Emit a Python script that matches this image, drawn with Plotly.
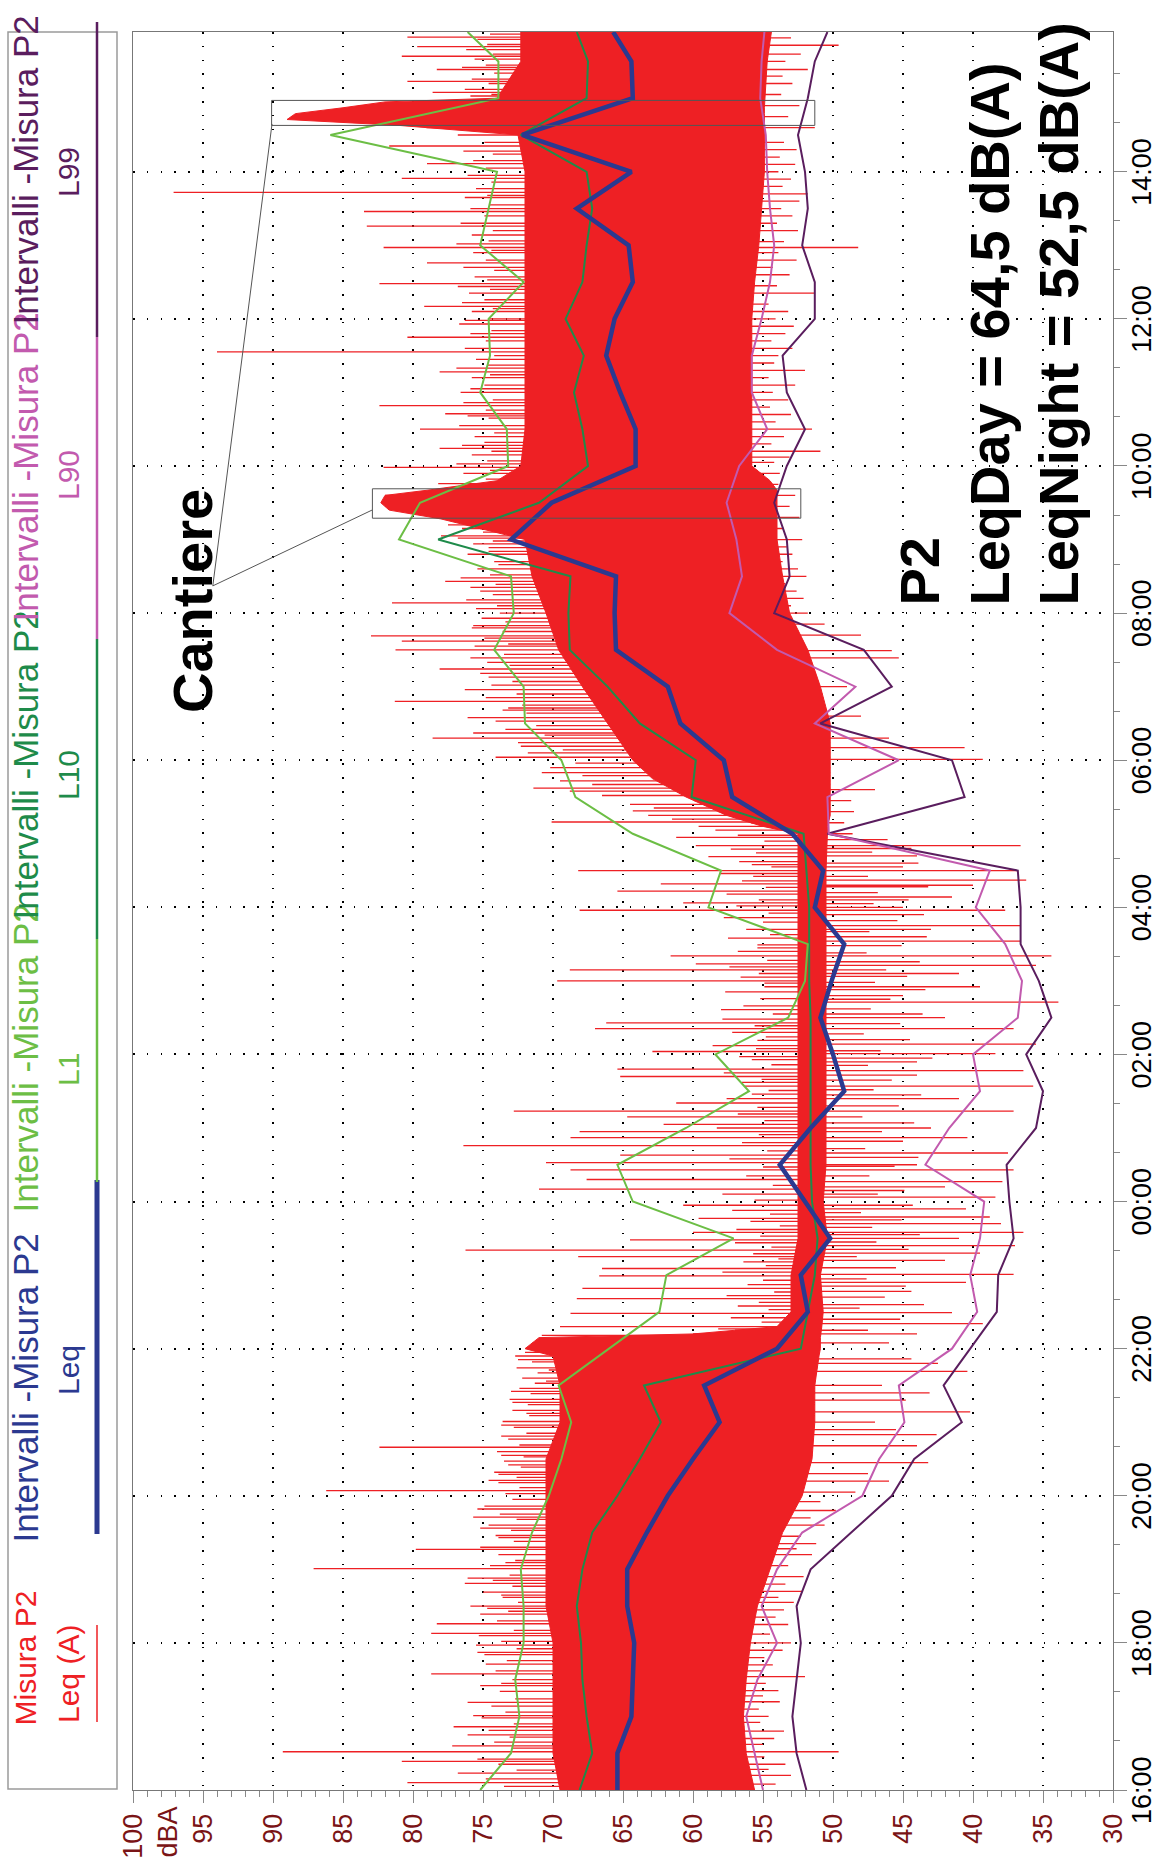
import numpy as np
import plotly.graph_objects as go

# ---------------- DATA ----------------
# time in hours after 16:00 (start of the measurement)
interval_t = [0, 0.5, 1, 1.5, 2, 2.5, 3, 3.5, 4, 4.5, 5, 5.5, 6, 6.5, 7, 7.5, 8, 8.5, 9, 9.5,
              10, 10.5, 11, 11.5, 12, 12.5, 13, 13.5, 14, 14.5, 15, 15.5, 16, 16.5, 17, 17.5,
              18, 18.5, 19, 19.5, 20, 20.5, 21, 21.5, 22, 22.5, 23, 23.5, 23.9]
leq = [65.4, 65.4, 64.4, 64.3, 64.2, 64.7, 64.7, 63.3, 61.8, 60.0, 58.1, 59.2, 54.0, 51.8, 52.3, 50.2,
       52.0, 53.8, 51.6, 49.2, 50.0, 50.9, 50.1, 49.2, 51.3, 50.7, 52.9, 57.2, 57.8, 60.9, 61.8, 65.5,
       65.6, 65.5, 73.0, 70.1, 64.1, 64.1, 65.2, 66.2, 65.6, 64.3, 64.6, 68.3, 64.4, 72.2, 64.3, 64.4, 65.7]
l1 = [75.2, 73.0, 72.4, 72.7, 72.1, 72.1, 72.3, 71.5, 70.3, 69.4, 68.7, 69.6, 66.0, 62.4, 61.9, 57.1,
      64.3, 65.4, 60.5, 56.0, 58.4, 53.2, 52.0, 51.8, 58.9, 58.0, 64.3, 68.4, 69.4, 72.0, 72.1, 74.2,
      72.8, 73.0, 81.0, 79.5, 73.2, 73.3, 75.2, 74.5, 74.6, 72.1, 75.2, 74.6, 74.0, 85.9, 73.9, 73.9, 76.1]
l10 = [68.1, 67.2, 67.6, 67.9, 68.0, 68.3, 67.9, 67.2, 65.4, 63.8, 62.3, 63.5, 52.3, 51.8, 51.3, 51.1,
       51.5, 51.6, 51.6, 51.6, 51.6, 51.6, 51.7, 51.7, 51.7, 51.9, 52.1, 60.1, 59.8, 63.8, 66.1, 68.8,
       68.9, 68.75, 78.2, 71.0, 67.5, 67.9, 68.5, 67.8, 69.1, 67.9, 67.6, 67.2, 67.6, 72.3, 67.6, 67.5, 68.3]
l90 = [55.0, 55.6, 56.2, 55.4, 54.0, 55.1, 54.0, 52.2, 47.9, 46.7, 44.9, 45.3, 41.5, 39.7, 40.2, 39.5,
       39.2, 43.4, 41.7, 39.5, 40.0, 36.8, 36.5, 37.7, 39.8, 38.8, 50.3, 50.4, 45.3, 51.3, 48.4, 54.0,
       57.4, 56.5, 56.9, 57.6, 56.7, 54.7, 55.8, 55.8, 55.1, 54.5, 54.2, 54.5, 54.7, 54.8, 55.2, 55.1, 54.9]
l99 = [51.9, 52.6, 52.9, 52.6, 52.3, 52.6, 51.6, 48.7, 45.8, 44.2, 40.8, 42.1, 40.2, 38.3, 38.2, 37.1,
       37.4, 37.6, 35.5, 35.0, 36.2, 34.4, 35.3, 36.6, 36.6, 36.8, 50.4, 40.6, 41.5, 50.9, 45.8, 47.8,
       54.2, 53.1, 53.3, 54.2, 53.3, 52.0, 53.3, 53.6, 51.3, 51.3, 52.2, 51.8, 52.0, 52.5, 51.8, 51.3, 50.4]

# short-time Leq(A) history: dense core band (upper / lower edge) ...
band_t = [0, 0.5, 1, 1.5, 2, 2.5, 3, 3.5, 4, 4.5, 5, 5.5, 5.9, 6.0, 6.15, 6.2, 6.3, 6.5, 7, 7.5,
          8, 8.5, 9, 9.5, 10, 10.5, 11, 11.5, 12, 12.5, 13, 13.1, 13.25, 13.5, 13.75, 14, 14.5, 15,
          15.5, 16, 16.5, 17, 17.28, 17.4, 17.5, 17.6, 17.67, 17.8, 18, 18.5, 19, 19.5, 20, 20.5,
          21, 21.5, 22, 22.5, 22.63, 22.71, 22.79, 22.87, 22.95, 23.0, 23.5, 23.9]
band_hi = [69.5, 70, 70, 70, 70, 70.5, 70.5, 70.5, 70.5, 70.5, 69.5, 69.5, 70, 72, 71, 60, 54, 53, 53, 52.5,
           52.5, 52.5, 52.5, 52.5, 52.5, 52.5, 52.5, 52.5, 52.5, 52.5, 52.5, 55, 57.6, 60.5, 62.9, 64.3, 66.1, 67.9,
           69.6, 70.5, 71.5, 72, 78, 81.7, 82.3, 82, 79, 74, 72.3, 72, 72, 72, 72, 72,
           72, 72, 72, 72.5, 81, 89, 88.4, 85, 82, 74, 72.3, 72.3]
band_lo = [55.6, 56.2, 56.4, 56.2, 55.9, 55.4, 54.5, 53.6, 52.2, 51.5, 51.3, 51.3, 51, 50.9, 50.9, 50.9, 50.8, 50.7, 50.9, 50.4,
           50.7, 50.5, 50.5, 50.5, 50.5, 50.5, 50.5, 50.5, 50.5, 50.5, 50.4, 50.4, 50.2, 50.2, 50.2, 50.2, 50.2, 50.9,
           51.8, 53.1, 53.6, 54, 54, 54, 54, 54, 54, 54.5, 55.8, 55.8, 55.8, 55.8, 55.8, 55.6,
           55.3, 55.1, 54.9, 54.9, 54.9, 54.9, 54.9, 54.9, 54.9, 54.9, 54.7, 54.4]

# ... its long peaks (towards high levels)
peak_t = [0.10, 0.23, 0.39, 0.52, 0.60, 0.75, 0.86, 1.01, 1.19, 1.45, 1.58, 1.71, 1.87, 1.97, 2.13, 2.26,
          2.39, 2.50, 2.65, 2.81, 2.88, 3.01, 3.09, 3.27, 3.43, 3.56, 3.71, 3.82, 4.07, 4.21, 4.29, 4.42,
          4.55, 4.66, 4.81, 4.96, 5.12, 5.27, 5.42, 5.56, 5.71, 5.85, 5.90, 6.18, 6.30, 6.48, 6.68, 6.82,
          6.99, 7.09, 7.25, 7.34, 7.48, 7.58, 7.77, 7.95,
          8.17, 8.30, 8.43, 8.53, 8.63, 8.76, 8.87, 8.95, 9.05, 9.15, 9.23, 9.34, 9.46, 9.62, 9.70, 9.80,
          9.93, 10.04, 10.19, 10.35, 10.43, 10.61, 10.92, 11.0, 11.15, 11.23, 11.34, 11.49, 11.96, 12.06,
          12.22, 12.32, 12.50, 12.58, 12.69, 12.84, 12.95, 13.16, 13.31, 13.62, 13.83, 14.04, 14.19, 14.30,
          14.37, 14.58, 14.71, 14.80, 14.96, 15.13, 15.24, 15.39, 15.50, 15.62, 15.69, 15.83,
          16.14, 16.30, 16.43, 16.66, 16.89, 17.05, 17.15, 17.98, 18.24, 18.5, 18.71, 18.82, 19.05,
          19.28, 19.55, 19.75, 19.98, 20.17, 20.48, 20.76, 20.97, 21.26, 21.46, 21.72, 21.91, 22.11,
          22.35, 23.08, 23.23, 23.39, 23.57, 23.70, 23.83]
peak_v = [80.4, 76.8, 80.8, 89.3, 77.2, 76.1, 77.1, 75.7, 76.1, 73.7, 78.7, 74.8, 75.4, 75.5, 78.7, 78.3,
          75.2, 75.9, 73.7, 76.3, 76.1, 87.1, 73.4, 79.8, 73.9, 75.2, 75.7, 75.4, 86.2, 74.6, 73.9, 73.2,
          73.7, 82.4, 73.7, 73.7, 71.9, 72.9, 73.0, 70.5, 70.3, 72.5, 72.7, 70.8, 69.5, 68.75, 68.3, 67.9,
          66.7, 66.5, 68.2, 76.25, 64.5, 60.0, 59.6, 60.7,
          71.0, 67.6, 68.75, 70.5, 65.2, 76.4, 68.75, 68.1, 62.1, 64.7, 72.8, 61.2, 55.8, 56.5, 65.2, 65.4,
          55.8, 62.9, 55.4, 67.0, 66.2, 58.0, 54.9, 69.7, 68.8, 59.8, 61.6, 55.4, 68.1, 60.7,
          65.4, 62.3, 68.2, 55.8, 58.9, 59.8, 61.2, 70.1, 64.3, 71.4, 70.8, 74.1, 72.3, 78.6,
          75.7, 76.1, 73.2, 81.3, 76.3, 74.6, 78.1, 75.9, 81.25, 80.8, 83.0, 75.7,
          81.5, 75.2, 77.7, 73.9, 74.6, 78.0, 76.5, 82.1, 78.1, 79.5, 77.7, 82.4, 75.9,
          78.1, 94.0, 80.4, 76.3, 79.2, 82.4, 79.0, 82.1, 83.3, 83.5, 97.1, 80.8, 79.0,
          81.7, 78.6, 80.4, 78.3, 80.8, 79.7, 80.4]

# ... its short peaks (dense fringe), as (time, level) pairs
fringe_peaks = [
    (0.05, 73.5), (0.15, 74.8), (0.27, 72.6), (0.35, 73.9), (0.42, 75.4), (0.57, 72.9), (0.65, 74.2),
    (0.72, 73.1), (0.81, 74.6), (0.90, 72.8), (0.98, 75.1), (1.06, 73.4), (1.14, 74.4), (1.24, 72.7),
    (1.34, 73.8), (1.42, 75.2), (1.50, 72.9), (1.62, 74.1), (1.76, 73.3), (1.84, 74.9), (1.92, 72.6),
    (2.02, 73.7), (2.10, 75.3), (2.17, 72.8), (2.30, 74.0), (2.43, 73.2), (2.47, 74.7), (2.55, 72.5),
    (2.62, 73.6), (2.69, 75.0), (2.77, 72.9), (2.85, 74.3), (2.92, 73.1), (3.05, 74.5), (3.12, 72.7),
    (3.20, 73.9), (3.30, 75.2), (3.38, 72.8), (3.46, 74.1), (3.53, 73.0), (3.60, 74.6), (3.68, 72.6),
    (3.75, 73.8), (3.86, 74.9), (3.95, 72.9), (4.03, 73.4), (4.11, 72.4), (4.18, 73.9), (4.25, 72.6),
    (4.32, 74.2), (4.39, 72.3), (4.47, 73.5), (4.53, 72.1), (4.60, 74.0), (4.69, 72.4), (4.77, 73.2),
    (4.85, 71.9), (4.93, 72.8), (5.01, 73.6), (5.09, 71.7), (5.16, 72.9), (5.24, 71.8), (5.31, 73.1),
    (5.39, 71.6), (5.46, 72.4), (5.53, 71.3), (5.60, 72.2), (5.67, 71.1), (5.74, 72.6), (5.82, 71.5),
    (5.95, 72.0),
    (6.22, 56.5), (6.27, 58.2), (6.36, 55.1), (6.42, 57.3), (6.53, 54.6), (6.58, 56.8), (6.63, 55.3),
    (6.72, 57.6), (6.77, 54.2), (6.87, 56.1), (6.93, 55.0), (7.04, 57.9), (7.13, 54.8), (7.18, 56.4),
    (7.22, 53.9), (7.29, 55.7), (7.38, 54.4), (7.44, 57.0), (7.53, 55.2), (7.62, 56.9), (7.67, 53.8),
    (7.73, 55.9), (7.83, 54.5), (7.88, 57.2), (8.02, 55.6), (8.10, 57.9), (8.22, 54.3), (8.35, 56.2),
    (8.47, 55.0), (8.58, 57.4), (8.69, 54.7), (8.80, 56.5), (8.91, 55.3), (9.00, 58.3), (9.10, 54.9),
    (9.19, 56.8), (9.28, 55.4), (9.40, 57.6), (9.51, 54.6), (9.57, 56.3), (9.66, 55.1), (9.75, 57.8),
    (9.86, 54.4), (9.97, 56.7), (10.08, 55.5), (10.12, 58.6), (10.24, 54.8), (10.30, 57.2), (10.39, 55.6),
    (10.48, 57.9), (10.55, 54.3), (10.66, 56.4), (10.76, 55.2), (10.85, 57.7), (10.97, 54.9), (11.05, 56.6),
    (11.10, 55.3), (11.19, 57.4), (11.28, 54.7), (11.40, 56.8), (11.45, 55.4), (11.58, 57.5), (11.63, 54.5),
    (11.70, 56.2), (11.80, 55.0), (11.86, 57.8), (11.92, 54.6), (12.02, 56.9), (12.10, 55.3), (12.18, 57.6),
    (12.27, 54.8), (12.36, 56.5), (12.42, 55.7), (12.46, 58.1), (12.55, 54.4), (12.62, 56.7), (12.74, 55.5),
    (12.79, 57.3), (12.90, 54.9), (12.98, 56.8), (13.05, 58.4), (13.10, 59.6), (13.20, 61.5), (13.25, 63.2),
    (13.35, 62.8), (13.40, 64.5),
    (13.52, 66.5), (13.58, 68.8), (13.67, 67.2), (13.72, 69.5), (13.79, 67.9), (13.90, 70.2), (13.96, 68.4),
    (14.10, 71.8), (14.14, 69.3), (14.24, 72.5), (14.34, 70.6), (14.42, 73.4), (14.47, 71.2), (14.53, 74.1),
    (14.64, 71.9), (14.68, 73.6), (14.75, 72.2), (14.85, 74.8), (14.90, 72.6), (15.02, 74.4), (15.07, 72.9),
    (15.18, 75.2), (15.29, 73.1), (15.33, 74.7), (15.44, 73.5), (15.55, 75.6), (15.58, 73.2), (15.66, 74.9),
    (15.75, 73.6), (15.80, 75.8), (15.88, 73.4), (15.93, 75.1), (16.00, 73.8), (16.06, 75.5), (16.10, 74.0),
    (16.18, 76.2), (16.25, 74.3), (16.35, 75.9), (16.39, 74.1), (16.48, 76.6), (16.52, 74.5), (16.60, 75.4),
    (16.70, 74.2), (16.80, 76.1), (16.84, 74.6), (16.94, 75.7), (16.98, 74.3), (17.02, 76.8), (17.10, 75.0),
    (17.20, 77.5), (17.72, 76.0), (17.76, 78.2), (17.82, 74.8), (17.90, 76.4), (17.94, 74.5), (18.03, 76.9),
    (18.07, 74.7), (18.15, 75.8), (18.20, 74.4), (18.28, 76.5), (18.32, 74.9), (18.40, 75.6), (18.45, 74.2),
    (18.55, 76.7), (18.65, 74.6), (18.68, 76.1), (18.76, 74.8), (18.86, 76.4), (18.90, 74.3), (19.00, 76.6),
    (19.10, 74.9), (19.20, 75.8), (19.24, 74.5), (19.33, 76.9), (19.37, 74.7), (19.45, 75.5), (19.50, 74.2),
    (19.60, 76.3), (19.70, 74.8), (19.80, 75.9), (19.84, 74.4), (19.93, 76.7), (20.00, 74.6), (20.10, 75.8),
    (20.14, 74.3), (20.22, 76.5), (20.26, 74.9), (20.35, 76.0), (20.40, 74.5), (20.44, 76.8), (20.53, 74.7),
    (20.57, 75.6), (20.66, 74.2), (20.70, 76.4), (20.80, 74.8), (20.90, 75.7), (20.93, 74.4), (21.02, 76.9),
    (21.06, 74.6), (21.14, 75.8), (21.20, 74.3), (21.30, 76.6), (21.40, 74.9), (21.50, 75.9), (21.55, 74.5),
    (21.65, 76.3), (21.68, 74.7), (21.77, 75.5), (21.86, 74.4), (21.95, 76.1), (22.05, 74.8), (22.15, 75.7),
    (22.24, 74.3), (22.28, 76.4), (22.40, 74.9), (22.50, 76.8), (22.55, 75.2), (23.03, 75.9), (23.05, 74.4),
    (23.12, 76.3), (23.20, 74.6), (23.26, 75.8), (23.34, 74.2), (23.42, 76.5), (23.45, 74.8), (23.53, 75.6),
    (23.60, 74.3), (23.66, 76.2), (23.73, 74.7), (23.80, 75.4), (23.87, 74.5)]

# ... and its dips (towards low levels), as (time, level) pairs
dips = [
    (0.08, 54.1), (0.20, 53.0), (0.28, 54.6), (0.35, 53.4), (0.45, 54.9), (0.52, 49.6), (0.62, 55.0),
    (0.70, 54.2), (0.80, 53.5), (0.92, 55.2), (1.00, 54.6), (1.10, 55.3), (1.20, 53.8), (1.28, 55.0),
    (1.35, 53.9), (1.45, 54.8), (1.54, 52.0), (1.62, 55.1), (1.70, 54.3), (1.80, 54.9), (1.90, 53.6),
    (2.00, 53.0), (2.12, 54.5), (2.25, 53.2), (2.35, 54.1), (2.45, 53.5), (2.55, 52.8), (2.62, 53.9),
    (2.70, 52.2), (2.80, 53.4), (2.90, 52.1), (3.05, 53.2), (3.20, 51.5), (3.28, 52.6), (3.35, 51.2),
    (3.45, 52.3), (3.60, 50.6), (3.70, 51.6), (3.80, 49.8), (3.92, 50.9), (4.05, 48.4), (4.20, 46.0),
    (4.30, 47.5), (4.45, 43.2), (4.68, 44.0), (4.83, 42.6), (4.90, 45.5), (5.00, 47.0), (5.14, 40.2),
    (5.30, 44.8), (5.40, 43.1), (5.50, 46.5), (5.69, 40.4), (5.80, 42.5), (5.86, 44.4), (6.08, 46.0),
    (6.20, 44.0), (6.25, 47.5), (6.34, 39.3), (6.40, 45.2), (6.49, 41.5), (6.55, 48.1), (6.60, 43.5),
    (6.70, 46.3), (6.78, 44.4), (6.85, 44.8), (6.90, 40.5), (6.95, 47.6), (7.01, 37.1), (7.10, 45.5),
    (7.20, 42.0), (7.25, 48.3), (7.30, 39.5), (7.35, 44.6), (7.40, 37.0), (7.45, 46.9), (7.50, 41.0),
    (7.55, 43.8), (7.58, 36.4), (7.65, 47.2), (7.70, 38.0), (7.75, 45.1), (7.79, 38.8), (7.85, 48.0),
    (7.90, 40.5), (7.95, 44.3), (8.06, 38.4), (8.10, 46.8), (8.15, 44.9), (8.20, 42.0), (8.27, 37.9),
    (8.35, 47.4), (8.43, 37.1), (8.48, 45.6), (8.50, 44.0), (8.60, 43.9), (8.66, 37.5), (8.72, 47.7),
    (8.82, 45.0), (8.87, 40.4), (8.95, 46.5), (9.00, 43.0), (9.07, 44.2), (9.15, 47.9), (9.23, 37.1),
    (9.30, 45.3), (9.40, 41.0), (9.45, 43.7), (9.52, 47.1), (9.57, 35.7), (9.65, 45.8), (9.72, 44.0),
    (9.78, 36.4), (9.85, 47.5), (9.90, 44.0), (9.95, 42.9), (10.01, 38.4), (10.05, 46.6), (10.14, 35.5),
    (10.20, 44.5), (10.28, 47.8), (10.35, 37.1), (10.42, 45.2), (10.50, 42.0), (10.55, 43.6), (10.62, 47.3),
    (10.71, 33.9), (10.75, 45.9), (10.80, 45.0), (10.88, 43.4), (10.92, 39.5), (10.98, 47.0), (11.06, 44.7),
    (11.10, 41.0), (11.15, 46.2), (11.21, 35.5), (11.26, 43.8), (11.34, 34.4), (11.38, 47.6), (11.48, 45.1),
    (11.54, 36.6), (11.60, 43.3), (11.67, 47.4), (11.70, 43.0), (11.75, 36.6), (11.82, 45.4), (11.90, 43.5),
    (11.96, 37.7), (12.00, 45.0), (12.05, 47.1), (12.10, 44.6), (12.14, 41.5), (12.20, 46.8), (12.28, 43.2),
    (12.30, 40.0), (12.37, 36.2), (12.42, 47.5), (12.50, 36.8), (12.55, 45.0), (12.60, 43.9), (12.70, 44.0),
    (12.75, 47.2), (12.80, 44.4), (12.84, 36.6), (12.92, 46.1), (13.00, 48.6), (13.15, 49.2), (13.30, 48.5),
    (13.45, 48.7), (13.60, 47.0), (14.01, 39.3), (14.17, 40.6), (14.30, 46.0), (14.60, 48.0), (15.00, 49.0),
    (15.39, 45.3), (15.49, 45.8), (15.70, 48.0), (15.85, 50.6), (16.00, 51.8), (16.10, 53.0), (16.20, 52.1),
    (16.30, 52.6), (16.40, 53.4), (16.50, 51.9), (16.60, 52.5), (16.70, 53.6), (16.80, 52.9), (16.90, 53.3),
    (17.00, 52.2), (17.15, 53.5), (17.30, 52.4), (17.45, 53.1), (17.60, 52.7), (17.75, 53.9), (17.90, 53.8),
    (18.05, 54.2), (18.12, 53.1), (18.20, 50.9), (18.30, 54.4), (18.40, 53.5), (18.50, 51.5), (18.60, 54.1),
    (18.70, 53.0), (18.80, 54.5), (18.90, 53.2), (19.00, 54.3), (19.10, 52.7), (19.20, 54.6), (19.30, 52.0),
    (19.40, 54.2), (19.50, 53.9), (19.60, 52.9), (19.70, 54.4), (19.80, 53.4), (19.90, 52.8), (20.00, 54.1),
    (20.10, 53.2), (20.20, 54.6), (20.35, 51.3), (20.45, 54.0), (20.60, 53.1), (20.70, 54.3), (20.80, 52.6),
    (20.90, 53.9), (20.97, 48.2), (21.05, 53.5), (21.20, 52.5), (21.30, 54.0), (21.40, 52.9), (21.50, 53.7),
    (21.60, 52.4), (21.70, 51.8), (21.80, 53.6), (21.90, 53.0), (22.00, 53.9), (22.10, 52.7), (22.20, 53.8),
    (22.30, 52.6), (22.40, 53.5), (22.60, 51.3), (22.75, 53.2), (22.90, 52.4), (23.05, 53.7), (23.20, 52.9),
    (23.30, 53.6), (23.39, 51.8), (23.50, 53.4), (23.60, 52.3), (23.72, 49.6), (23.82, 53.0)]

time_ticks = [0, 2, 4, 6, 8, 10, 12, 14, 16, 18, 20, 22]
time_labels = ["16:00", "18:00", "20:00", "22:00", "00:00", "02:00", "04:00", "06:00",
               "08:00", "10:00", "12:00", "14:00"]
dba_ticks = [30, 35, 40, 45, 50, 55, 60, 65, 70, 75, 80, 85, 90, 95, 100]

# ---------------- STYLE ----------------
RED = "#EE2024"
NAVY = "#2B3990"
LGREEN = "#6CBE45"
DGREEN = "#1E8B4A"
PINK = "#C25AAE"
PURPLE = "#5A1D5E"
TICKRED = "#7A1416"
FONT = "Liberation Sans, Arial, sans-serif"

W, H = 1160, 1865
L, R, T, B = 133, 47, 32, 75


def px(xp):
    return (xp - L) / (W - L - R)


def py(yp):
    return (H - B - yp) / (H - T - B)


fig = go.Figure()

# core band of the short-time history
poly_x = list(band_hi) + list(band_lo)[::-1]
poly_y = list(band_t) + list(band_t)[::-1]
fig.add_trace(go.Scatter(x=poly_x, y=poly_y, mode="lines", fill="toself", fillcolor=RED,
                         line=dict(color=RED, width=1), hoverinfo="skip", showlegend=False))

# peaks / dips as thin horizontal strokes from the core band
sx, sy = [], []
all_peaks = list(zip(peak_t, peak_v)) + fringe_peaks
for t, v in all_peaks:
    sx += [float(np.interp(t, band_t, band_lo)), v, None]
    sy += [t, t, None]
for t, v in dips:
    sx += [float(np.interp(t, band_t, band_hi)), v, None]
    sy += [t, t, None]
fig.add_trace(go.Scatter(x=sx, y=sy, mode="lines", line=dict(color=RED, width=1.3),
                         hoverinfo="skip", showlegend=False))

for vals, col, wd in [(l99, PURPLE, 2), (l90, PINK, 2), (l10, DGREEN, 2), (l1, LGREEN, 2), (leq, NAVY, 4.5)]:
    fig.add_trace(go.Scatter(x=vals, y=interval_t, mode="lines", line=dict(color=col, width=wd),
                             showlegend=False))

shapes = []
# "Cantiere" boxes and leader lines
for (x0, x1, y0, y1) in [(90.1, 51.3, 22.63, 22.97), (82.9, 52.3, 17.29, 17.69)]:
    shapes.append(dict(type="rect", xref="x", yref="y", x0=x0, x1=x1, y0=y0, y1=y1,
                       line=dict(color="#555555", width=1)))
for (xa, ya) in [(90.07, 22.65), (82.93, 17.40)]:
    shapes.append(dict(type="line", xref="x", yref="y", x0=94.3, y0=16.37, x1=xa, y1=ya,
                       line=dict(color="#555555", width=1)))

# legend frame
shapes.append(dict(type="rect", xref="paper", yref="paper", x0=px(8), x1=px(117), y0=py(1789), y1=py(32),
                   line=dict(color="#9A9A9A", width=1.5), fillcolor="white", layer="below"))
legend_items = [("Misura P2", 30, "Leq (A)", RED, 1.5, 1728, 1722, 1625, 1674),
                ("Intervalli -Misura P2", 35, "Leq", NAVY, 5, 1545, 1534, 1180, 1370),
                ("Intervalli -Misura P2", 35, "L1", LGREEN, 2.5, 1215, 1182, 939, 1070),
                ("Intervalli -Misura P2", 35, "L10", DGREEN, 2.5, 922, 939, 639, 775),
                ("Intervalli -Misura P2", 35, "L90", PINK, 2.5, 624, 639, 337, 475),
                ("Intervalli -Misura P2", 35, "L99", PURPLE, 2.5, 327, 337, 22, 172)]
annotations = []
for name, fs, lab, col, lw, ystart, l0, l1_, ylab in legend_items:
    shapes.append(dict(type="line", xref="paper", yref="paper", x0=px(97), x1=px(97), y0=py(l0), y1=py(l1_),
                       line=dict(color=col, width=lw)))
    annotations.append(dict(xref="paper", yref="paper", x=px(25), y=py(ystart), text=name, showarrow=False,
                            textangle=-90, xanchor="center", yanchor="bottom",
                            font=dict(family=FONT, size=fs, color=col)))
    annotations.append(dict(xref="paper", yref="paper", x=px(68), y=py(ylab), text=lab, showarrow=False,
                            textangle=-90, xanchor="center", yanchor="middle",
                            font=dict(family=FONT, size=30, color=col)))

# big labels
annotations.append(dict(xref="paper", yref="paper", x=px(193), y=py(601), text="<b>Cantiere</b>",
                        showarrow=False, textangle=-90, xanchor="center", yanchor="middle",
                        font=dict(family=FONT, size=56, color="black")))
for txt, xc in [("P2", 919), ("LeqDay = 64,5 dB(A)", 989), ("LeqNight = 52,5 dB(A)", 1058)]:
    annotations.append(dict(xref="paper", yref="paper", x=px(xc), y=py(608), text="<b>" + txt + "</b>",
                            showarrow=False, textangle=-90, xanchor="center", yanchor="bottom",
                            font=dict(family=FONT, size=56, color="black")))
annotations.append(dict(xref="paper", yref="paper", x=px(167), y=py(1805), text="dBA", showarrow=False,
                        textangle=-90, xanchor="center", yanchor="top",
                        font=dict(family=FONT, size=27, color=TICKRED)))
# time labels (right side, rotated)
for tv, tl in zip(time_ticks, time_labels):
    annotations.append(dict(xref="paper", yref="y", x=px(1142), y=tv, text=tl, showarrow=False,
                            textangle=-90, xanchor="center", yanchor="middle",
                            font=dict(family=FONT, size=27, color="black")))

fig.update_layout(
    width=W, height=H, margin=dict(l=L, r=R, t=T, b=B, pad=0),
    paper_bgcolor="white", plot_bgcolor="white",
    shapes=shapes, annotations=annotations, showlegend=False,
    xaxis=dict(range=[100, 30], tickvals=dba_ticks, ticktext=[str(v) for v in dba_ticks],
               tickangle=-90, tickfont=dict(family=FONT, size=27, color=TICKRED),
               ticks="outside", ticklen=12, tickcolor="#888888", tickwidth=1,
               minor=dict(dtick=1, ticks="outside", ticklen=6, tickcolor="#888888", showgrid=False),
               showgrid=True, gridcolor="black", gridwidth=1.6, griddash="1.6px,12.2px",
               showline=True, linecolor="#777777", linewidth=1, mirror=True, zeroline=False,
               automargin=False),
    yaxis=dict(range=[0, 23.9], side="right", tickvals=time_ticks, showticklabels=False,
               ticks="outside", ticklen=13, tickcolor="#888888",
               minor=dict(tick0=0, dtick=2 / 3, ticks="outside", ticklen=6, tickcolor="#888888", showgrid=False),
               showgrid=True, gridcolor="black", gridwidth=1.6, griddash="1.6px,12.2px",
               showline=True, linecolor="#777777", linewidth=1, mirror=True, zeroline=False,
               automargin=False),
)

fig.write_html("out.html", config={"displayModeBar": False},
               post_script="document.body.style.margin='0px';")
